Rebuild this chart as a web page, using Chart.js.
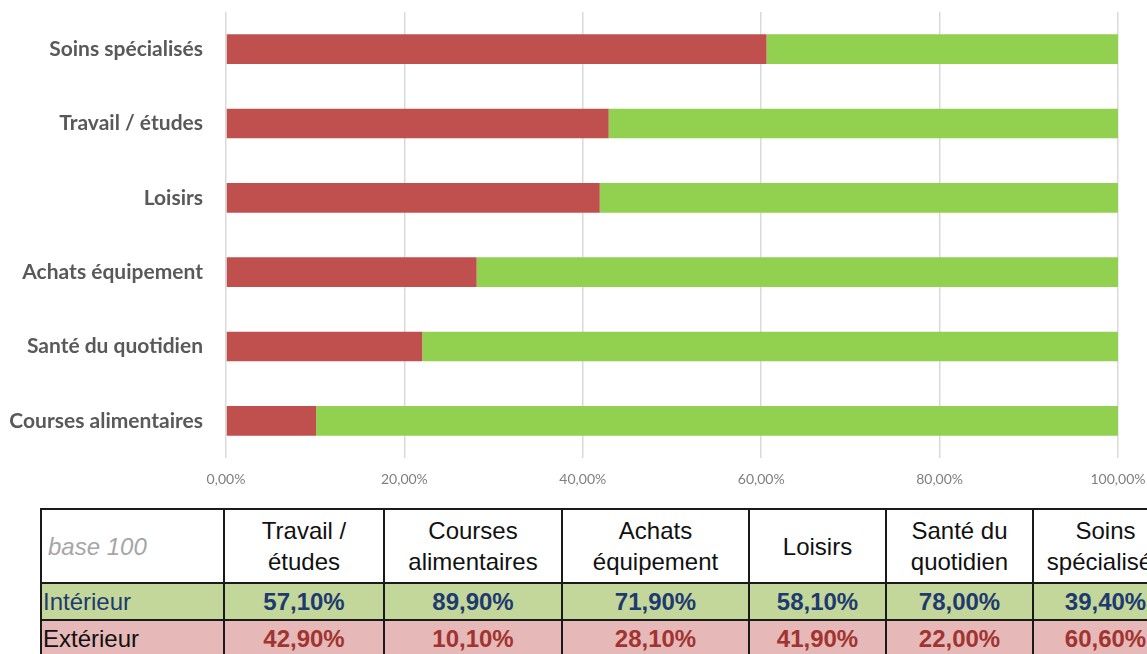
<!DOCTYPE html>
<html>
<head>
<meta charset="utf-8">
<script src="https://cdn.jsdelivr.net/npm/chart.js@4/dist/chart.umd.min.js"></script>
<style>
  html, body { margin: 0; padding: 0; background: #fff; width: 1147px; height: 654px; overflow: hidden; position: relative; }
  #wrap { position: absolute; left: 0; top: 0; width: 1147px; height: 500px; }
  table { position: absolute; left: 40px; top: 508px; width: 1137px; border-collapse: collapse; table-layout: fixed;
          font-family: 'Liberation Sans Narrow', 'Liberation Sans', Arial, sans-serif; font-size: 24px; }
  td { border: 2px solid #1a1a1a; padding: 0; text-align: center; line-height: 31px; overflow: hidden; white-space: nowrap; }
  tr.head td { height: 72px; background: #fff; color: #111; }
  tr.head td.corner { text-align: left; padding-left: 6px; color: #a6a6a6; font-style: italic; }
  tr.int td { background: #c4d79b; height: 35px; color: #1f3a6e; font-weight: bold; }
  tr.ext td { background: #e6b8b7; height: 35px; color: #a03430; font-weight: bold; }
  tr.int td.rowlab { text-align: left; font-weight: normal; color: #1f3a6e; padding-left: 1px; }
  tr.ext td.rowlab { text-align: left; font-weight: normal; color: #111; padding-left: 1px; }
</style>
</head>
<body>
<div id="wrap"><canvas id="c" width="1147" height="500"></canvas></div>
<table id="t"></table>
<script>
// Data (table order)
const categories = ['Travail / études', 'Courses alimentaires', 'Achats équipement', 'Loisirs', 'Santé du quotidien', 'Soins spécialisés'];
const headerLabels = ['Travail /\nétudes', 'Courses\nalimentaires', 'Achats\néquipement', 'Loisirs', 'Santé du\nquotidien', 'Soins\nspécialisés'];
const interieur = [57.1, 89.9, 71.9, 58.1, 78.0, 39.4];
const exterieur = [42.9, 10.1, 28.1, 41.9, 22.0, 60.6];
// Chart category order, top to bottom
const chartOrder = ['Soins spécialisés', 'Travail / études', 'Loisirs', 'Achats équipement', 'Santé du quotidien', 'Courses alimentaires'];
const xTicks = [0, 20, 40, 60, 80, 100];
const seriesNames = ['Extérieur', 'Intérieur'];
const cornerLabel = 'base 100';

const fmt = v => v.toFixed(2).replace('.', ',') + '%';

const idx = chartOrder.map(c => categories.indexOf(c));
const extData = idx.map(i => exterieur[i]);
const intData = idx.map(i => interieur[i]);

new Chart(document.getElementById('c'), {
  type: 'bar',
  data: {
    labels: chartOrder,
    datasets: [
      { label: seriesNames[0], data: extData, backgroundColor: '#c0504d', borderWidth: 0 },
      { label: seriesNames[1], data: intData, backgroundColor: '#92d050', borderWidth: 0 }
    ]
  },
  options: {
    indexAxis: 'y',
    responsive: false,
    animation: false,
    layout: { padding: { top: 12, right: 29, left: 0, bottom: 0 } },
    plugins: { legend: { display: false }, tooltip: { enabled: false } },
    datasets: { bar: { barPercentage: 0.8, categoryPercentage: 0.5 } },
    scales: {
      x: {
        stacked: true, min: 0, max: 100,
        afterBuildTicks: s => { s.ticks = xTicks.map(v => ({ value: v })); },
        afterFit: s => { s.height = 42; s.paddingLeft = 0; s.paddingRight = 0; },
        grid: { color: '#d9d9d9', lineWidth: 1.5, drawTicks: false },
        border: { display: false },
        ticks: { padding: 13, color: '#7f7f7f', font: { family: 'Lato', size: 14 }, callback: v => fmt(v), maxRotation: 0 }
      },
      y: {
        stacked: true,
        afterFit: s => { s.width = 226; s.paddingTop = 0; s.paddingBottom = 0; },
        grid: { display: false, drawTicks: false },
        border: { display: false },
        ticks: { padding: 23, color: '#595959', font: { family: 'Lato', size: 21, weight: 'bold' } }
      }
    }
  }
});

// Table
const t = document.getElementById('t');
const colW = [183, 160, 178, 187, 137, 147, 145];
const cg = document.createElement('colgroup');
colW.forEach(w => { const c = document.createElement('col'); c.style.width = w + 'px'; cg.appendChild(c); });
t.appendChild(cg);
function row(cls, first, firstCls, cells) {
  const tr = document.createElement('tr'); tr.className = cls;
  const td0 = document.createElement('td'); td0.className = firstCls; td0.textContent = first; tr.appendChild(td0);
  cells.forEach(txt => {
    const td = document.createElement('td');
    txt.split('\n').forEach((line, k) => { if (k) td.appendChild(document.createElement('br')); td.appendChild(document.createTextNode(line)); });
    tr.appendChild(td);
  });
  t.appendChild(tr);
}
row('head', cornerLabel, 'corner', headerLabels);
row('int', seriesNames[1], 'rowlab', interieur.map(fmt));
row('ext', seriesNames[0], 'rowlab', exterieur.map(fmt));
</script>
</body>
</html>
